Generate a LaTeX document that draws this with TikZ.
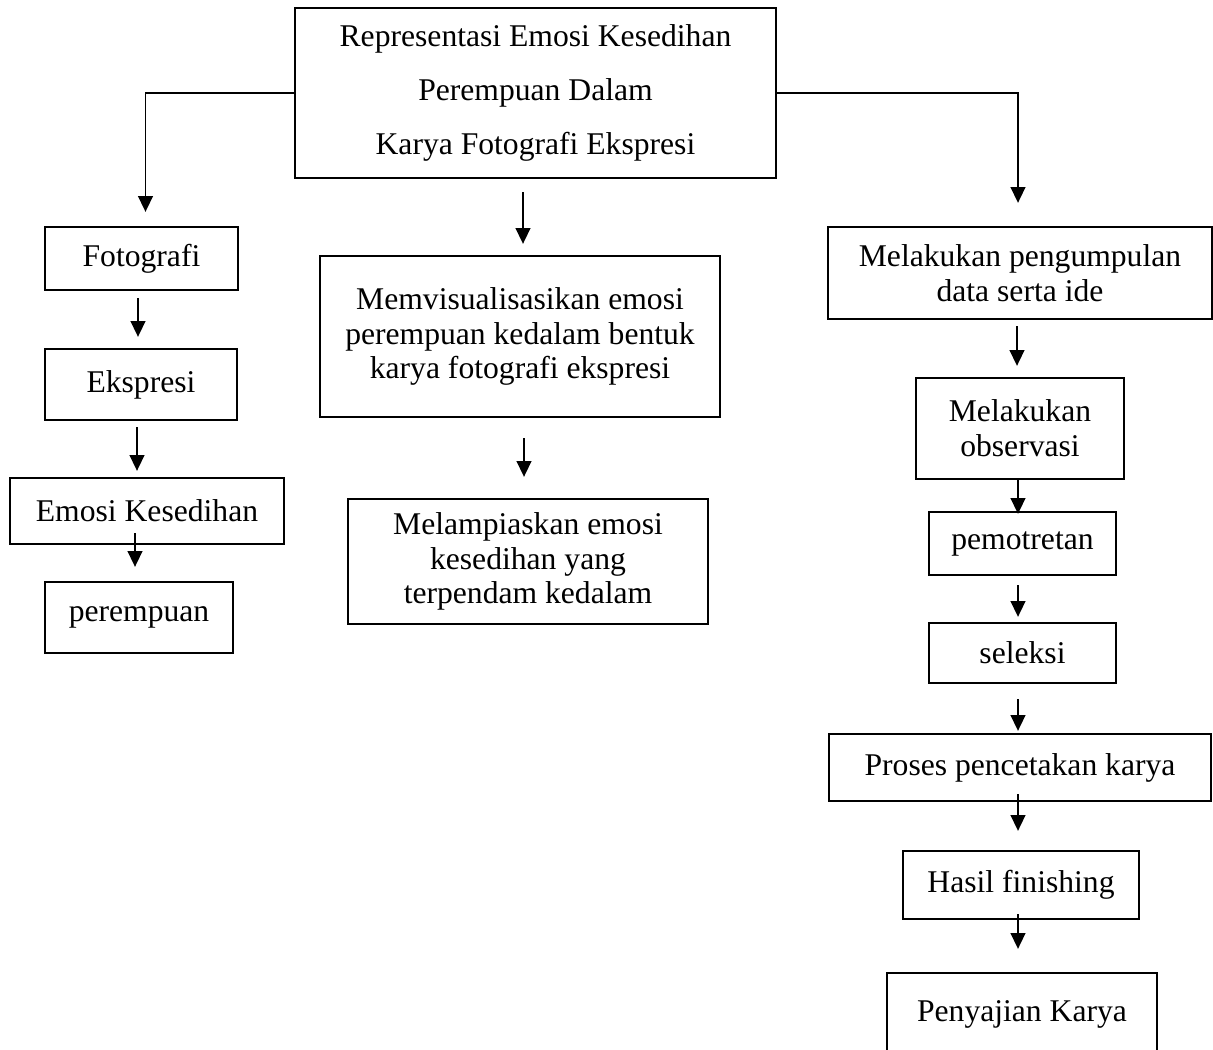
\documentclass[tikz,border=0pt]{standalone}
\usepackage{fontspec}
\setmainfont{Liberation Serif}
\usetikzlibrary{arrows.meta}
\newlength{\px}
\setlength{\px}{0.02cm}

\begin{document}
\begin{tikzpicture}[x=0.02cm,y=-0.02cm,
  box/.style={draw,line width=1.35pt,inner sep=0pt,align=center,font=\fontsize{18}{19.8}\selectfont},
  arr/.style={line width=0.75pt,-{Triangle[width=8.5pt,length=9pt]}}]
  \useasboundingbox (0,0) rectangle (1213,1049);
  \clip (0,0) rectangle (1213,1049);
  % title box
  \node[box,minimum width=481\px,minimum height=170\px] (judul) at (535.5,93)
    {Representasi Emosi Kesedihan\\[11pt]Perempuan Dalam\\[11pt]Karya Fotografi Ekspresi};
  % left column
  \node[box,minimum width=193\px,minimum height=63\px] (foto) at (141.5,258.5) {Fotografi};
  \node[box,minimum width=192\px,minimum height=71\px] (ekspresi) at (141,384.5) {Ekspresi};
  \node[box,minimum width=274\px,minimum height=66\px] (emosi) at (147,511) {Emosi Kesedihan};
  \node[box,minimum width=188\px,minimum height=71\px] (perempuan) at (139,617.5) {perempuan};
  % middle column
  \node[box,minimum width=400\px,minimum height=161\px] (visual) at (520,336.5)
    {Memvisualisasikan emosi\\perempuan kedalam bentuk\\karya fotografi ekspresi};
  \node[box,minimum width=360\px,minimum height=125\px] (lampias) at (528,561.5)
    {Melampiaskan emosi\\kesedihan yang\\terpendam kedalam};
  % right column
  \node[box,minimum width=384\px,minimum height=92\px] (kumpul) at (1020,273)
    {Melakukan pengumpulan\\data serta ide};
  \node[box,minimum width=208\px,minimum height=101\px] (observasi) at (1020,428.5)
    {Melakukan\\observasi};
  \node[box,minimum width=187\px,minimum height=63\px] (potret) at (1022.5,543.5) {pemotretan};
  \node[box,minimum width=187\px,minimum height=60\px] (seleksi) at (1022.5,653) {seleksi};
  \node[box,minimum width=382\px,minimum height=67\px] (cetak) at (1020,767.5) {Proses pencetakan karya};
  \node[box,minimum width=236\px,minimum height=68\px] (hasil) at (1021,885) {Hasil finishing};
  \node[box,minimum width=270\px,minimum height=82\px] (sajian) at (1022,1014) {Penyajian Karya};
  % arrows from title
  \draw[arr,shorten >=14\px] (judul.west) -| ([xshift=4\px]foto.north);
  \draw[arr,shorten >=23\px] (judul.east) -| ([xshift=-2\px]kumpul.north);
  \draw[arr,shorten <=13\px,shorten >=11\px] ([xshift=3\px]judul.south -| visual.north) -- ([xshift=3\px]visual.north);
  % left arrows
  \draw[arr,shorten <=7\px,shorten >=11\px] ([xshift=-3\px]ekspresi.north |- foto.south) -- ([xshift=-3\px]ekspresi.north);
  \draw[arr,shorten <=6\px,shorten >=6\px] ([xshift=-4\px]ekspresi.south) -- ([xshift=-4\px]ekspresi.south |- emosi.north);
  \draw[arr,shorten <=-12\px,shorten >=14\px] ([xshift=-4\px]perempuan.north |- emosi.south) -- ([xshift=-4\px]perempuan.north);
  % middle arrow
  \draw[arr,shorten <=20\px,shorten >=21\px] ([xshift=-4\px]lampias.north |- visual.south) -- ([xshift=-4\px]lampias.north);
  % right arrows
  \draw[arr,shorten <=6\px,shorten >=11\px] ([xshift=-3\px]kumpul.south) -- ([xshift=-3\px]observasi.north);
  \draw[arr,shorten >=-3\px] ([xshift=-2\px]observasi.south) -- ([xshift=-2\px]observasi.south |- potret.north);
  \draw[arr,shorten <=9\px,shorten >=5\px] ([xshift=-2\px]observasi.south |- potret.south) -- ([xshift=-2\px]observasi.south |- seleksi.north);
  \draw[arr,shorten <=15\px,shorten >=2\px] ([xshift=-2\px]observasi.south |- seleksi.south) -- ([xshift=-2\px]observasi.south |- cetak.north);
  \draw[arr,shorten <=-8\px,shorten >=19\px] ([xshift=-2\px]observasi.south |- cetak.south) -- ([xshift=-2\px]observasi.south |- hasil.north);
  \draw[arr,shorten <=-6\px,shorten >=23\px] ([xshift=-2\px]observasi.south |- hasil.south) -- ([xshift=-2\px]observasi.south |- sajian.north);
\end{tikzpicture}
\end{document}
